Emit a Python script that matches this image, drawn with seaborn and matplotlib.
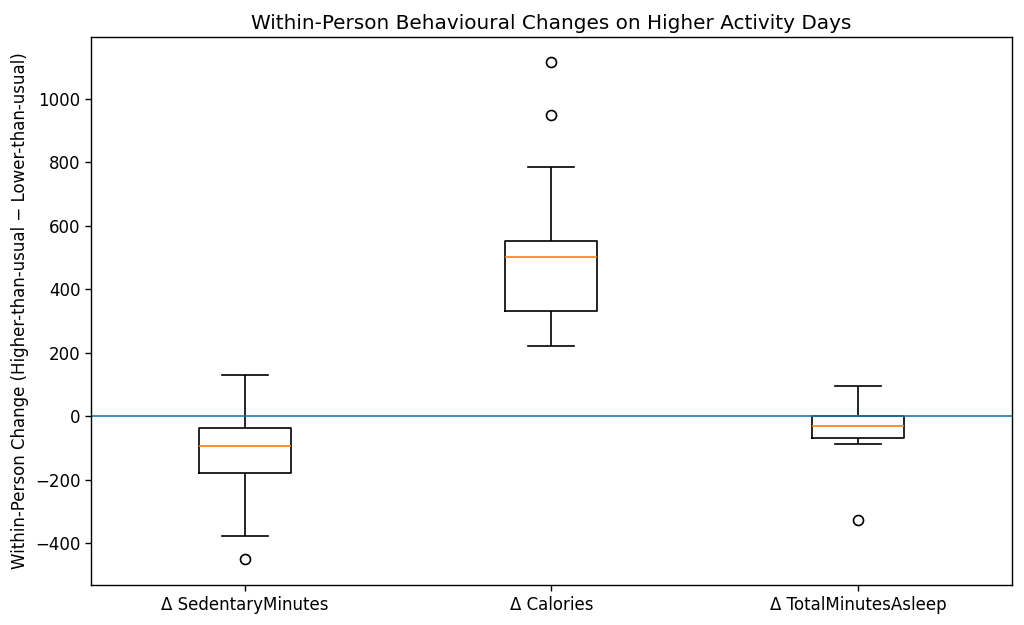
import matplotlib
matplotlib.use("Agg")
import matplotlib.pyplot as plt
import pandas as pd
import seaborn as sns

# per-person deltas (higher-than-usual minus lower-than-usual activity days)
sedentary = [-450, -378, -178, -130, -94, -60, -37, 50, 130]
calories = [221, 260, 300, 330, 400, 450, 500, 520, 540, 551, 784, 948, 1115]
asleep = [-328, -86, -67, -45, -31, -15, 2, 50, 94]

labels = ["Δ SedentaryMinutes", "Δ Calories", "Δ TotalMinutesAsleep"]

df = pd.DataFrame({
    "metric": [labels[0]] * len(sedentary) + [labels[1]] * len(calories) + [labels[2]] * len(asleep),
    "delta": sedentary + calories + asleep,
})

fig, ax = plt.subplots(figsize=(10.24, 6.25), dpi=100)

sns.boxplot(
    data=df, x="metric", y="delta", order=labels,
    fill=False, color="black", width=0.3, linewidth=1.2,
    medianprops=dict(color="#ff7f0e", linewidth=1.2),
    flierprops=dict(marker="o", markerfacecolor="none", markeredgecolor="black",
                    markersize=7.2, markeredgewidth=1.2),
    ax=ax,
)
ax.axhline(0, color="#1f77b4", linewidth=1.2)

ax.set_xlim(-0.5, 2.5)
ax.set_ylim(-531, 1194)
ax.set_xlabel("")
ax.set_ylabel("Within-Person Change (Higher-than-usual − Lower-than-usual)", fontsize=12)
ax.set_title("Within-Person Behavioural Changes on Higher Activity Days", fontsize=14.4)
ax.tick_params(labelsize=12, width=1, length=4.2)
for s in ax.spines.values():
    s.set_linewidth(1)

fig.subplots_adjust(left=0.089, right=0.988, top=0.941, bottom=0.064)
fig.savefig("out.png", dpi=100)
